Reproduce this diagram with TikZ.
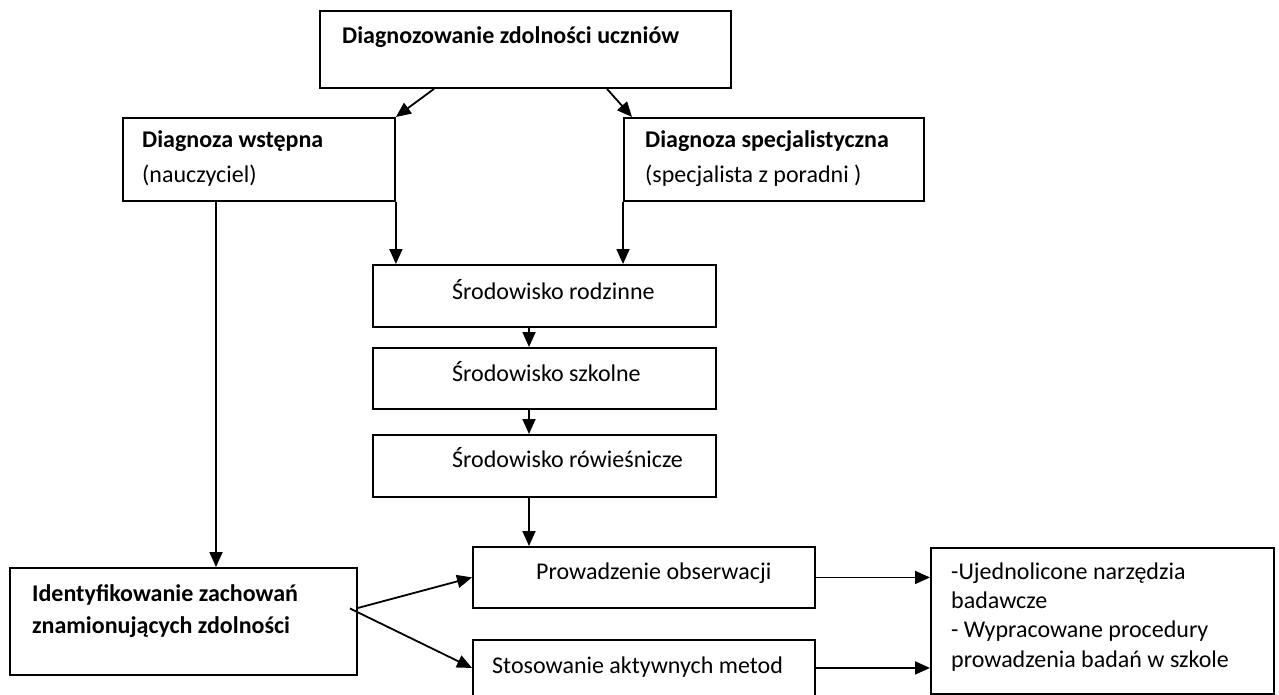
\documentclass[tikz,border=0pt]{standalone}
\usepackage{fontspec}
\setmainfont{Carlito}
\usetikzlibrary{arrows.meta}

\begin{document}
\begin{tikzpicture}[x=1pt,y=-1pt]
				\tikzset{box/.style={draw,line width=1.9pt,inner sep=0pt,anchor=north west},
					txt/.style={anchor=base west,inner sep=0pt,font=\fontsize{24pt}{29pt}\selectfont},
					arr/.style={line width=1.8pt,-{Triangle[length=15pt,width=13pt]}}}
				
				% Page size
				\useasboundingbox (0,0) rectangle (1279,695);
				\clip (0,0) rectangle (1279,695);
				
				% Boxes
				\node[box,minimum width=411pt,minimum height=77pt] (diag) at (319,10) {};
				\node[box,minimum width=272pt,minimum height=83pt] (wst) at (122,117) {};
				\node[box,minimum width=300pt,minimum height=83pt] (spec) at (623,117) {};
				\node[box,minimum width=343pt,minimum height=62pt] (rodz) at (372,264) {};
				\node[box,minimum width=343pt,minimum height=61pt] (szk) at (372,347) {};
				\node[box,minimum width=343pt,minimum height=62pt] (row) at (372,434) {};
				\node[box,minimum width=347pt,minimum height=107pt] (ident) at (9,567) {};
				\node[box,minimum width=342pt,minimum height=61pt] (obs) at (472,546) {};
				\node[box,minimum width=342pt,minimum height=81pt] (stos) at (472,639) {};
				\node[box,minimum width=343pt,minimum height=146pt] (wyn) at (930,547) {};
				
				% Texts
				\node[txt] (diag-t) at (342,44) {\bfseries Diagnozowanie zdolności uczniów};
				\node[txt] (wst-t1) at (142,148) {\bfseries Diagnoza wstępna};
				\node[txt] (wst-t2) at (142,183) {(nauczyciel)};
				\node[txt] (spec-t1) at (645,148) {\bfseries Diagnoza specjalistyczna};
				\node[txt] (spec-t2) at (645,183) {(specjalista z poradni )};
				\node[txt] (rodz-t) at (452,299) {Środowisko rodzinne};
				\node[txt] (szk-t) at (452,381) {Środowisko szkolne};
				\node[txt] (row-t) at (452,467) {Środowisko rówieśnicze};
				\node[txt] (ident-t1) at (32,601) {\bfseries Identyfikowanie zachowań};
				\node[txt] (ident-t2) at (32,633) {\bfseries znamionujących zdolności};
				\node[txt] (obs-t) at (536,579) {Prowadzenie obserwacji};
				\node[txt] (stos-t) at (492,673) {Stosowanie aktywnych metod};
				\node[txt] (wyn-t1) at (951,579) {-Ujednolicone narzędzia};
				\node[txt] (wyn-t2) at (951,608) {badawcze};
				\node[txt] (wyn-t3) at (951,637) {- Wypracowane procedury};
				\node[txt] (wyn-t4) at (951,667) {prowadzenia badań w szkole};
				
				% Arrows from the top box
				\draw[arr] ([xshift=115pt]diag.south west) -- (wst.north east);
				\draw[arr] ([xshift=288pt]diag.south west) -- ([xshift=9pt]spec.north west);
				
				% Arrows down to the environments
				\draw[arr] (wst.south east) -- (wst.south east |- rodz.north);
				\draw[arr] (spec.south west) -- (spec.south west |- rodz.north);
				\draw[arr] ([xshift=157pt]rodz.south west) -- ([xshift=157pt]szk.north west);
				\draw[arr] ([xshift=157pt]szk.south west) -- ([xshift=157pt]row.north west);
				\draw[arr] ([xshift=157pt]row.south west) -- ([xshift=57pt]obs.north west);
				
				% Left branch
				\draw[arr] ([xshift=94pt]wst.south west) -- ([xshift=207pt]ident.north west);
				\draw[arr] ([yshift=13.5pt]ident.east) -- (obs.west);
				\draw[arr] ([shift={(-8pt,13pt)}]ident.east) -- ([yshift=12.5pt]stos.west);
				
				% Arrows to the results
				\draw[arr] (obs.east) -- (obs.east -| wyn.west);
				\draw[arr] ([yshift=12.5pt]stos.east) -- ([yshift=12.5pt]stos.east -| wyn.west);
				
\end{tikzpicture}
\end{document}
